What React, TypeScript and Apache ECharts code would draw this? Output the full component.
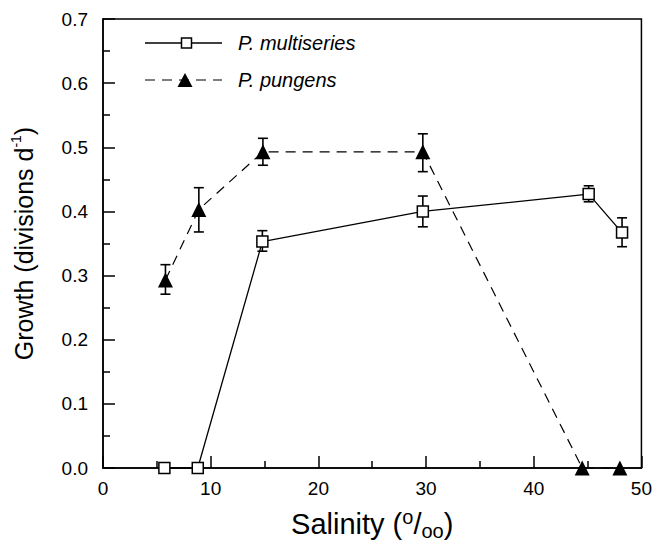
import React, { useEffect, useRef } from "react";
import * as echarts from "echarts";

// ---- data ----
const xTickMin = 0;
const xTickMax = 50;
const xTickStep = 10;
const yTickMin = 0;
const yTickMax = 0.7;
const yTickStep = 0.1;

const multiName = "P. multiseries";
const multiX = [5.7, 8.8, 14.8, 29.7, 45.1, 48.2];
const multiY = [0, 0, 0.353, 0.4, 0.427, 0.367];
const multiLow: (number | null)[] = [null, null, 0.338, 0.376, 0.415, 0.345];
const multiHigh: (number | null)[] = [null, null, 0.37, 0.424, 0.44, 0.39];

const pungName = "P. pungens";
const pungX = [5.8, 8.9, 14.85, 29.7, 44.5, 48.0];
const pungY = [0.293, 0.403, 0.493, 0.493, 0, 0];
const pungLow: (number | null)[] = [0.271, 0.368, 0.472, 0.462, null, null];
const pungHigh: (number | null)[] = [0.317, 0.437, 0.514, 0.521, null, null];

const FONT = "'Liberation Sans', Arial, Helvetica, sans-serif";

function pairs(xs: number[], ys: number[]) {
  return xs.map((x, i) => [x, ys[i]]);
}
function errData(xs: number[], lo: (number | null)[], hi: (number | null)[]) {
  const out: number[][] = [];
  xs.forEach((x, i) => {
    if (lo[i] != null && hi[i] != null) out.push([x, lo[i] as number, hi[i] as number]);
  });
  return out;
}

const errRender = (params: any, api: any) => {
  const x = api.value(0);
  const pLo = api.coord([x, api.value(1)]);
  const pHi = api.coord([x, api.value(2)]);
  const w = 5;
  const st = { stroke: "#000", lineWidth: 1.6 };
  return {
    type: "group",
    children: [
      { type: "line", shape: { x1: pLo[0], y1: pLo[1], x2: pHi[0], y2: pHi[1] }, style: st },
      { type: "line", shape: { x1: pLo[0] - w, y1: pLo[1], x2: pLo[0] + w, y2: pLo[1] }, style: st },
      { type: "line", shape: { x1: pHi[0] - w, y1: pHi[1], x2: pHi[0] + w, y2: pHi[1] }, style: st },
    ],
  };
};

const legendTextStyle = {
  fontFamily: FONT,
  fontStyle: "italic",
  fontSize: 20,
  fill: "#000",
  verticalAlign: "middle",
  align: "left",
};

export default function App() {
  const ref = useRef<HTMLDivElement>(null);
  useEffect(() => {
    if (!ref.current) return;
    const chart = echarts.init(ref.current, null, { renderer: "svg" });
    const option: any = {
      animation: false,
      backgroundColor: "#fff",
      textStyle: { fontFamily: FONT, color: "#000" },
      grid: {
        left: 103,
        right: 12,
        top: 19,
        bottom: 76,
        show: true,
        borderColor: "#000",
        borderWidth: 1.5,
        backgroundColor: "transparent",
      },
      graphic: [
        // legend row 1 (solid + open square)
        { type: "line", shape: { x1: 145, y1: 43, x2: 222, y2: 43 }, style: { stroke: "#000", lineWidth: 1.3 }, z: 10 },
        { type: "rect", shape: { x: 181.5, y: 38, width: 10, height: 10 }, style: { fill: "#fff", stroke: "#000", lineWidth: 1.5 }, z: 11 },
        { type: "text", x: 238, y: 43, style: { ...legendTextStyle, text: multiName }, z: 10 },
        // legend row 2 (dashed + filled triangle)
        { type: "line", shape: { x1: 145, y1: 80, x2: 222, y2: 80 }, style: { stroke: "#000", lineWidth: 1.2, lineDash: [10, 7] }, z: 10 },
        { type: "polygon", shape: { points: [[185, 73], [177.5, 87], [192.5, 87]] }, style: { fill: "#000" }, z: 11 },
        { type: "text", x: 238, y: 80, style: { ...legendTextStyle, text: pungName }, z: 10 },
      ],
      xAxis: {
        type: "value",
        min: xTickMin,
        max: xTickMax,
        interval: xTickStep,
        name: "{a|Salinity (}{sup|o}{a|/}{sub|oo}{a|)}",
        nameLocation: "middle",
        nameGap: 39,
        nameTextStyle: {
          rich: {
            a: { fontFamily: FONT, fontSize: 29, color: "#000", lineHeight: 34 },
            sup: { fontFamily: FONT, fontSize: 20, color: "#000", verticalAlign: "top", lineHeight: 34 },
            sub: { fontFamily: FONT, fontSize: 20, color: "#000", verticalAlign: "bottom", lineHeight: 34 },
          },
        },
        axisLine: { show: true, lineStyle: { color: "#000", width: 1.5 } },
        axisTick: { show: true, inside: true, length: 12, lineStyle: { color: "#000", width: 1.5 } },
        minorTick: { show: true, splitNumber: 2, length: 7, lineStyle: { color: "#000", width: 1.5 } },
        axisLabel: { fontFamily: FONT, fontSize: 19, color: "#000", margin: 11 },
        splitLine: { show: false },
      },
      yAxis: {
        type: "value",
        min: yTickMin,
        max: yTickMax,
        interval: yTickStep,
        name: "{a|Growth (divisions d}{sup|-1}{a|)}",
        nameLocation: "middle",
        nameGap: 64,
        nameRotate: 90,
        nameTextStyle: {
          rich: {
            a: { fontFamily: FONT, fontSize: 25, color: "#000", lineHeight: 30 },
            sup: { fontFamily: FONT, fontSize: 14, color: "#000", verticalAlign: "top", lineHeight: 30 },
          },
        },
        axisLine: { show: true, lineStyle: { color: "#000", width: 1.5 } },
        axisTick: { show: true, inside: true, length: 12, lineStyle: { color: "#000", width: 1.5 } },
        minorTick: { show: true, splitNumber: 2, length: 7, lineStyle: { color: "#000", width: 1.5 } },
        axisLabel: {
          fontFamily: FONT,
          fontSize: 19,
          color: "#000",
          margin: 15,
          formatter: (v: number) => v.toFixed(1),
        },
        splitLine: { show: false },
      },
      series: [
        {
          type: "custom",
          name: "err-multi",
          renderItem: errRender,
          encode: { x: 0, y: [1, 2] },
          data: errData(multiX, multiLow, multiHigh),
          z: 1,
          silent: true,
        },
        {
          type: "custom",
          name: "err-pung",
          renderItem: errRender,
          encode: { x: 0, y: [1, 2] },
          data: errData(pungX, pungLow, pungHigh),
          z: 1,
          silent: true,
        },
        {
          type: "line",
          name: multiName,
          data: pairs(multiX, multiY),
          clip: false,
          z: 3,
          symbol: "rect",
          symbolSize: 11,
          showAllSymbol: true,
          lineStyle: { color: "#000", width: 1.3, type: "solid" },
          itemStyle: { color: "#fff", borderColor: "#000", borderWidth: 1.5 },
        },
        {
          type: "line",
          name: pungName,
          data: pairs(pungX, pungY),
          clip: false,
          z: 4,
          symbol: "triangle",
          symbolSize: 15,
          showAllSymbol: true,
          lineStyle: { color: "#000", width: 1.2, type: [10, 7] },
          itemStyle: { color: "#000", borderColor: "#000", borderWidth: 0 },
        },
      ],
    };
    chart.setOption(option);
    return () => chart.dispose();
  }, []);
  return (
    <div
      ref={ref}
      style={{ position: "fixed", left: 0, top: 0, width: 655, height: 546, background: "#fff" }}
    />
  );
}
